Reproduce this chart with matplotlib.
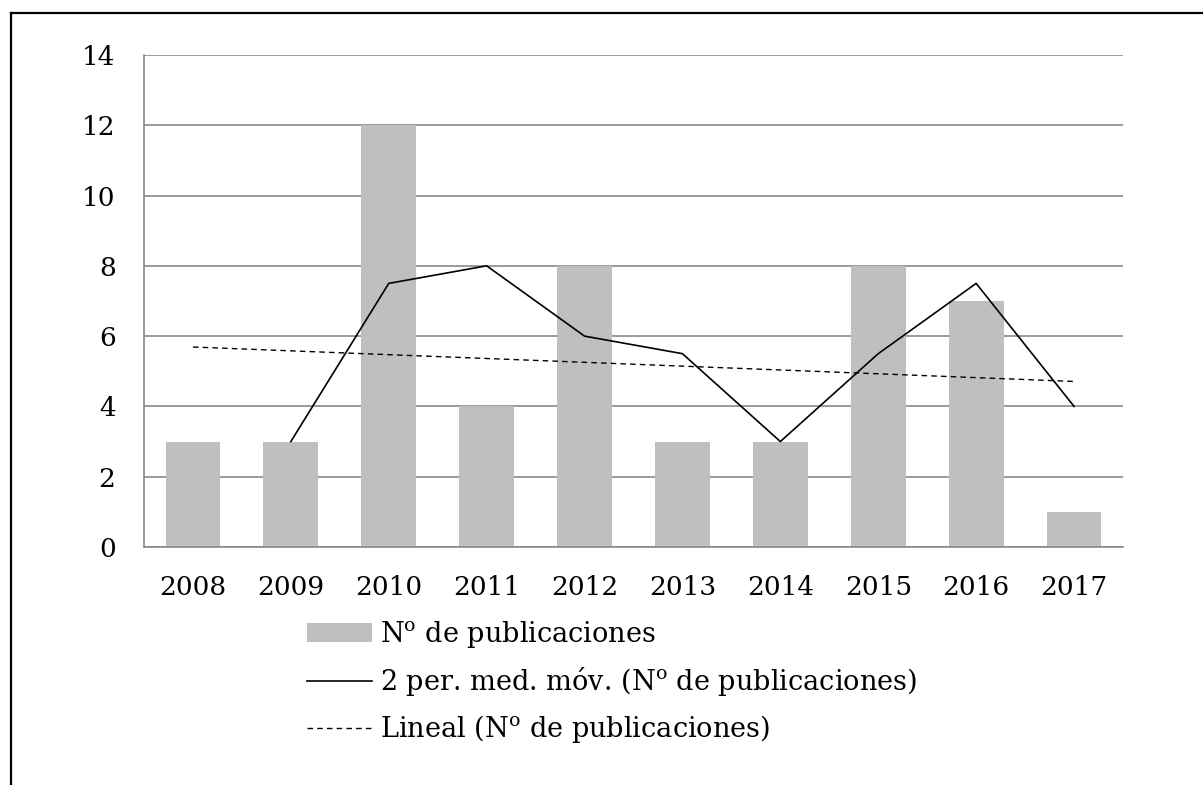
import matplotlib
matplotlib.use("Agg")
import matplotlib.pyplot as plt
from matplotlib.lines import Line2D
import numpy as np

plt.rcParams['font.family'] = ['DejaVu Serif']
plt.rcParams['mathtext.fontset'] = 'dejavuserif'

years = ['2008', '2009', '2010', '2011', '2012', '2013', '2014', '2015', '2016', '2017']
publicaciones = [3, 3, 12, 4, 8, 3, 3, 8, 7, 1]
# two-period moving average, starting with the second year
media_movil = [3, 7.5, 8, 6, 5.5, 3, 5.5, 7.5, 4]
# linear trend, first and last year
tendencia = [5.69, 4.71]
yticks = [0, 2, 4, 6, 8, 10, 12, 14]

num = r'N$^{\mathrm{o}}$'
label_bar = num + ' de publicaciones'
label_mm = '2 per. med. móv. (' + num + ' de publicaciones)'
label_lin = 'Lineal (' + num + ' de publicaciones)'

fig = plt.figure(figsize=(12.03, 7.85), dpi=100)
ax = fig.add_axes([0.1197, 0.3032, 0.8138, 0.6268])

x = np.arange(len(years))
bars = ax.bar(x, publicaciones, width=0.56, color='#bfbfbf', zorder=2, label=label_bar)
mm, = ax.plot(x[1:], media_movil, color='black', lw=1.2, zorder=3, label=label_mm)
lin, = ax.plot([x[0], x[-1]], tendencia, color='black', lw=1.0,
               linestyle=(0, (4, 3)), zorder=3, label=label_lin)

ax.set_xlim(-0.5, len(years) - 0.5)
ax.set_ylim(0, 14)
ax.set_yticks(yticks)
ax.set_xticks(x)
ax.set_xticklabels(years)
ax.yaxis.grid(True, color='#898989', lw=1.2, zorder=0)
ax.set_axisbelow(True)
for s in ['top', 'right']:
    ax.spines[s].set_visible(False)
for s in ['left', 'bottom']:
    ax.spines[s].set_color('#898989')
    ax.spines[s].set_linewidth(1.2)
ax.tick_params(axis='both', length=0, labelsize=19, colors='black')
ax.tick_params(axis='y', pad=20.5)
ax.tick_params(axis='x', pad=20)

fig.legend(handles=[bars, mm, lin], loc='upper left',
           bbox_to_anchor=(0.2552, 0.2115), frameon=False, fontsize=19.5,
           handlelength=2.4, handletextpad=0.3, labelspacing=0.56,
           borderaxespad=0, borderpad=0)

# frame lines along the left and top edges
fig.add_artist(Line2D([11 / 1203, 11 / 1203], [0, 1 - 13 / 785],
                      transform=fig.transFigure, color='black', lw=1.6))
fig.add_artist(Line2D([11 / 1203, 1], [1 - 13 / 785, 1 - 13 / 785],
                      transform=fig.transFigure, color='black', lw=1.6))

fig.savefig('out.png', dpi=100)
